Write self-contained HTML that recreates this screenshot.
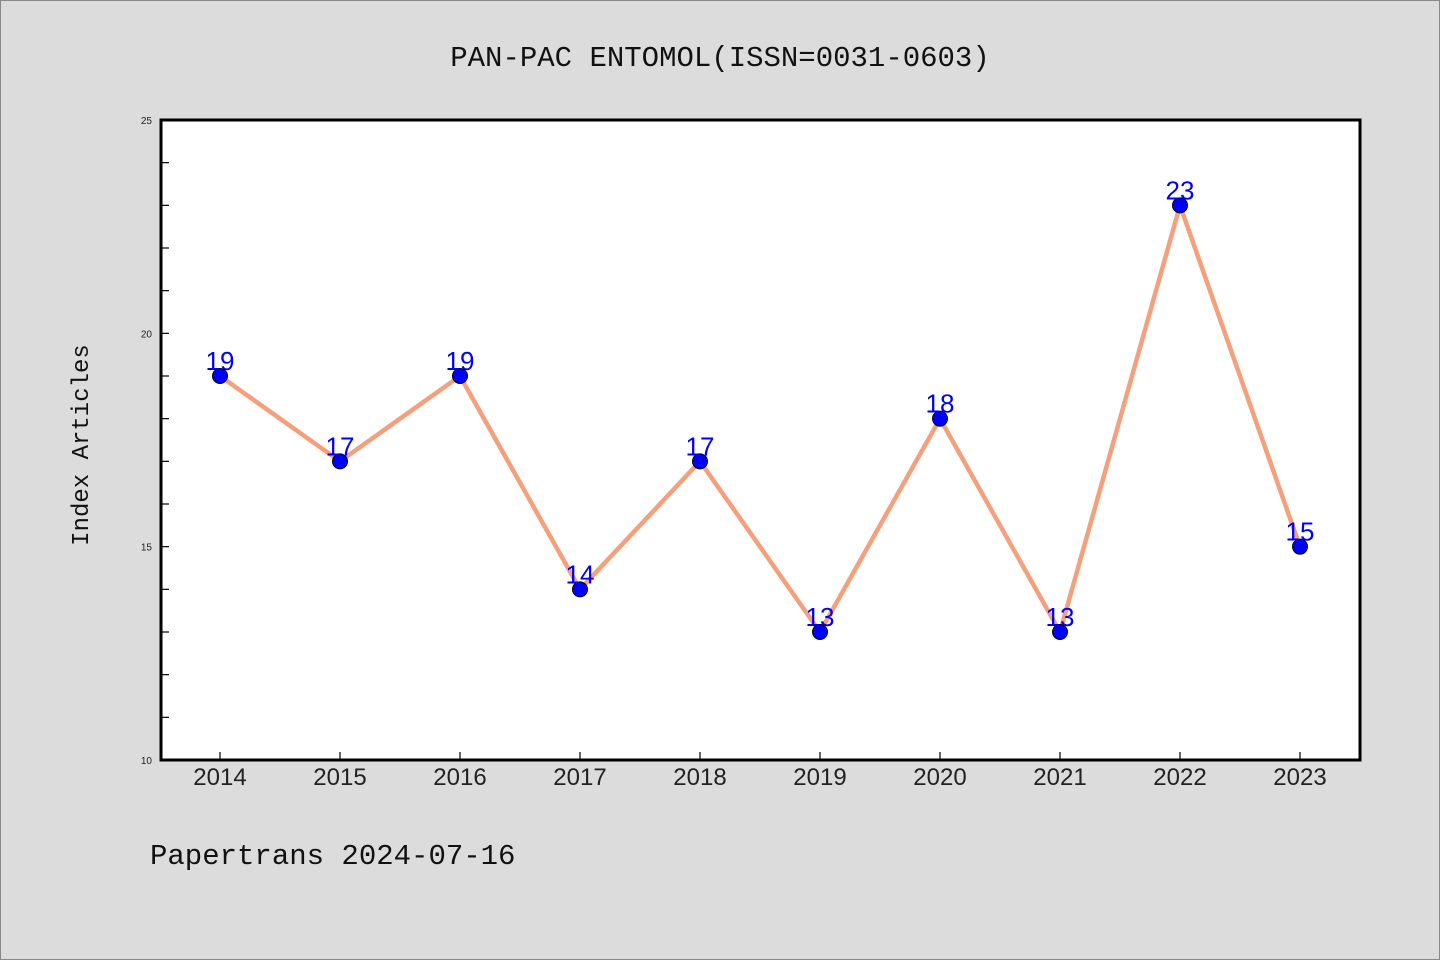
<!DOCTYPE html>
<html><head><meta charset="utf-8"><style>
html,body{margin:0;padding:0;background:#dcdcdc;}
svg{display:block}
</style></head><body>
<svg width="1440" height="960" xmlns="http://www.w3.org/2000/svg">
<rect x="0.5" y="0.5" width="1439" height="959" fill="#dcdcdc" stroke="#888"/>
<text x="720" y="66" text-anchor="middle" font-family="'Liberation Mono',monospace" font-size="29" fill="#111">PAN-PAC ENTOMOL(ISSN=0031-0603)</text>
<rect x="161" y="120" width="1199" height="640" fill="#fff"/>
<g id="ticks"></g>
<g id="marks"></g>
<rect x="161" y="120" width="1199" height="640" fill="none" stroke="#000" stroke-width="3"/>
<text transform="translate(88,445) rotate(-90)" text-anchor="middle" font-family="'Liberation Mono',monospace" font-size="24" fill="#111">Index Articles</text>
<text x="150" y="864" font-family="'Liberation Mono',monospace" font-size="29" fill="#111">Papertrans 2024-07-16</text>
</svg>
<script>
const years = ["2014","2015","2016","2017","2018","2019","2020","2021","2022","2023"];
const values = [19,17,19,14,17,13,18,13,23,15];
const yTickLabels = [10,15,20,25];
const NS="http://www.w3.org/2000/svg";
const yMin=10,yMax=25;
function X(i){return 220+i*120;}
function Y(v){return 760-(v-yMin)*(640/(yMax-yMin));}
function mk(t,a,p){const e=document.createElementNS(NS,t);for(const k in a)e.setAttribute(k,a[k]);p.appendChild(e);return e;}
const tg=document.getElementById('ticks'), mg=document.getElementById('marks');
for(let v=yMin+1;v<yMax;v++){
  const l=mk('line',{x1:161,x2:169,y1:Y(v),y2:Y(v),stroke:'#000','stroke-width':1.2},tg);
  
  
}
yTickLabels.forEach(v=>{
  const t=mk('text',{x:152,y:Y(v)+4,'text-anchor':'end','font-family':"'Liberation Sans',sans-serif",'font-size':10,fill:'#222'},tg);
  t.textContent=v;
  
  
});
years.forEach((y,i)=>{
  const l=mk('line',{x1:X(i),x2:X(i),y1:760,y2:752,stroke:'#000','stroke-width':1.2},tg);
  
  
  const t=mk('text',{x:X(i),y:785,'text-anchor':'middle','font-family':"'Liberation Sans',sans-serif",'font-size':24,fill:'#222'},tg);
  t.textContent=y;
  
  
});
const pl=mk('polyline',{points:values.map((v,i)=>X(i)+','+Y(v)).join(' '),fill:'none',stroke:'#f4a07c','stroke-width':4.5,'stroke-linejoin':'round'},mg);


values.forEach((v,i)=>{
  const c=mk('circle',{cx:X(i),cy:Y(v),r:7.5,fill:'#0000ff',stroke:'#000','stroke-width':1},mg);
  
  
  const t=mk('text',{x:X(i),y:Y(v)-6,'text-anchor':'middle','font-family':"'Liberation Sans',sans-serif",'font-size':26,fill:'#0000ff'},mg);
  t.textContent=v;
  
  
});
</script>
</body></html>
